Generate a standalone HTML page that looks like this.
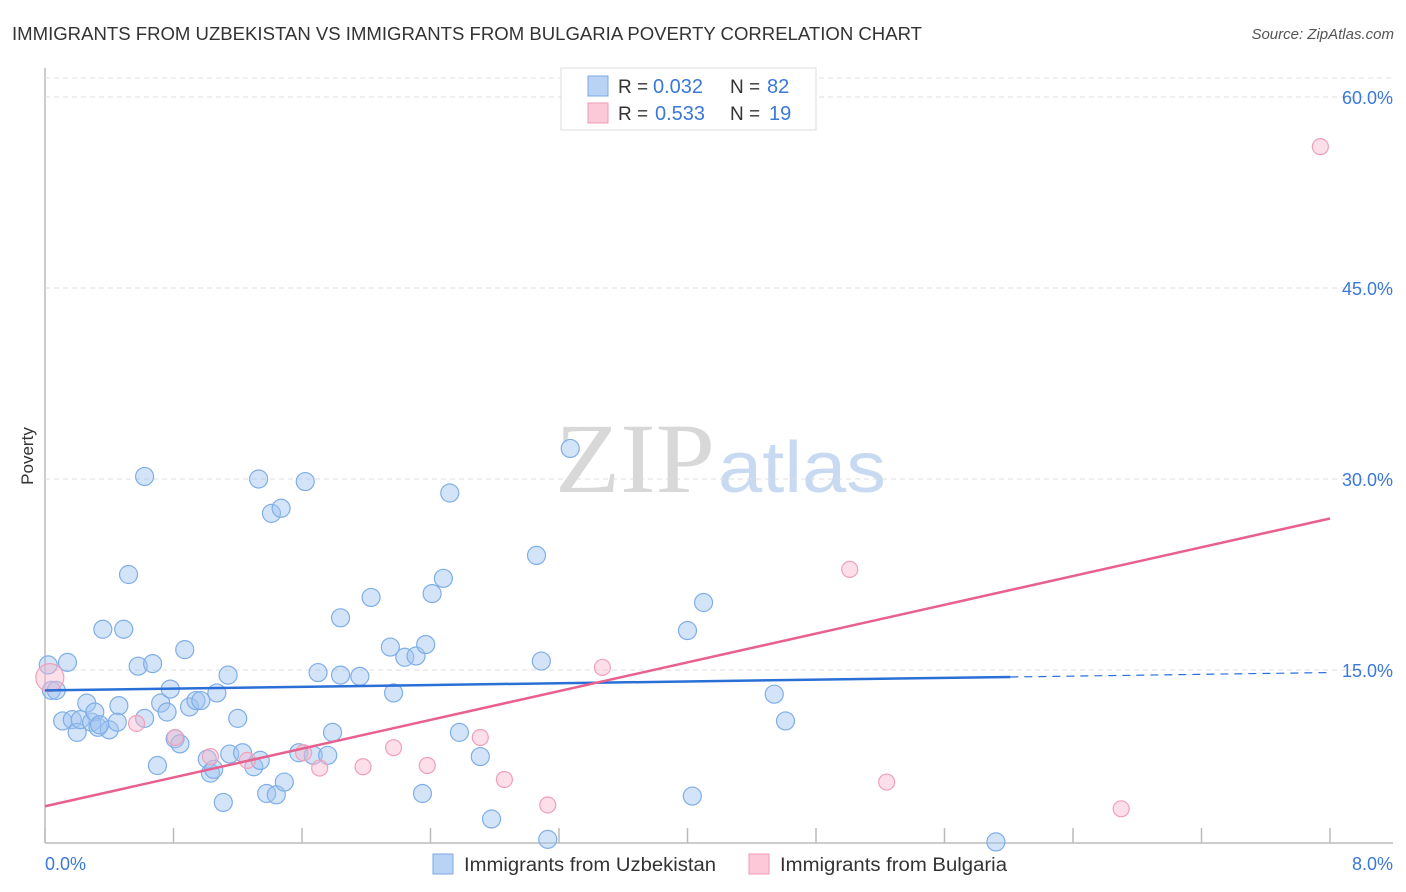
<!DOCTYPE html>
<html><head><meta charset="utf-8"><style>
body{margin:0;background:#fff;font-family:"Liberation Sans",sans-serif;}
#wrap{position:relative;width:1406px;height:892px;overflow:hidden;}
</style></head><body>
<div id="wrap">
<svg id="chart" width="1406" height="892" xmlns="http://www.w3.org/2000/svg">
<text x="12" y="40" font-size="18" fill="#333" textLength="910" lengthAdjust="spacingAndGlyphs">IMMIGRANTS FROM UZBEKISTAN VS IMMIGRANTS FROM BULGARIA POVERTY CORRELATION CHART</text>
<text x="1394" y="39" font-size="15" fill="#555" font-style="italic" text-anchor="end">Source: ZipAtlas.com</text>
<text x="555" y="492" font-size="100" fill="#d8d8d8" textLength="160" lengthAdjust="spacingAndGlyphs" font-family="Liberation Serif,serif">ZIP</text>
<text x="718" y="492" font-size="72" fill="#c8daf2" textLength="168" lengthAdjust="spacingAndGlyphs">atlas</text>
<text transform="translate(33,456) rotate(-90)" font-size="17" fill="#333" text-anchor="middle">Poverty</text>
<g id="grid"></g><g id="marks"></g>
<g>
<rect x="561" y="68" width="255" height="62" fill="#fff" stroke="#ddd"/>
<rect x="588" y="76" width="20" height="20" fill="#b9d3f5" stroke="#7aa8e6"/>
<rect x="588" y="103" width="20" height="20" fill="#fbc9d7" stroke="#f09ab4"/>
<text x="618" y="93" font-size="19" fill="#333">R =</text><text x="653" y="93" font-size="20" fill="#3b78d8">0.032</text>
<text x="730" y="93" font-size="19" fill="#333">N =</text><text x="767" y="93" font-size="20" fill="#3b78d8">82</text>
<text x="618" y="120" font-size="19" fill="#333">R =</text><text x="655" y="120" font-size="20" fill="#3b78d8">0.533</text>
<text x="730" y="120" font-size="19" fill="#333">N =</text><text x="769" y="120" font-size="20" fill="#3b78d8">19</text>
</g>
<g>
<rect x="433" y="854" width="20" height="20" fill="#b9d3f5" stroke="#7aa8e6"/>
<text x="464" y="871" font-size="19" fill="#333" textLength="252" lengthAdjust="spacingAndGlyphs">Immigrants from Uzbekistan</text>
<rect x="749" y="854" width="20" height="20" fill="#fbc9d7" stroke="#f09ab4"/>
<text x="780" y="871" font-size="19" fill="#333" textLength="227" lengthAdjust="spacingAndGlyphs">Immigrants from Bulgaria</text>
</g>
</svg></div>
<script>
const yTicks=[15,30,45,60];
const xTickCount=[0,0.8,1.6,2.4,3.2,4.0,4.8,5.6,6.4,7.2,8.0];
const blueX=[0.02,0.04,0.07,0.14,0.11,0.17,0.20,0.22,0.26,0.29,0.31,0.33,0.36,0.40,0.46,0.45,0.49,0.52,0.58,0.62,0.62,0.67,0.70,0.72,0.76,0.78,0.81,0.84,0.87,0.90,0.94,0.97,1.01,1.03,1.05,1.07,1.11,1.14,1.15,1.20,1.23,1.30,1.33,1.34,1.38,1.41,1.44,1.47,1.49,1.58,1.62,1.67,1.70,1.76,1.79,1.84,1.84,1.96,2.03,2.15,2.17,2.24,2.31,2.35,2.37,2.41,2.48,2.52,2.58,2.71,2.78,3.06,3.09,3.13,3.27,4.00,4.03,4.10,4.54,4.61,5.92,0.34];
const blueY=[15.4,13.4,13.4,15.6,11.0,11.1,10.1,11.1,12.4,10.9,11.7,10.5,18.2,10.3,12.2,10.9,18.2,22.5,15.3,30.2,11.2,15.5,7.5,12.4,11.7,13.5,9.6,9.2,16.6,12.1,12.6,12.6,8.0,6.9,7.2,13.2,4.6,14.6,8.4,11.2,8.5,7.4,30.0,7.9,5.3,27.3,5.2,27.7,6.2,8.5,29.8,8.3,14.8,8.3,10.1,14.6,19.1,14.5,20.7,16.8,13.2,16.0,16.1,5.3,17.0,21.0,22.2,28.9,10.1,8.2,3.3,24.0,15.7,1.7,32.4,18.1,5.1,20.3,13.1,11.0,1.5,10.7];
const pinkX=[0.03,0.57,0.81,1.03,1.26,1.61,1.71,1.98,2.17,2.38,2.71,2.86,3.13,3.47,5.01,5.24,6.70,7.94];
const pinkY=[14.4,10.8,9.7,8.2,7.9,8.5,7.3,7.4,8.9,7.5,9.7,6.4,4.4,15.2,22.9,6.2,4.1,56.1];
const blueTrend=[13.4,14.8];
const pinkTrend=[4.3,26.9];
const NS='http://www.w3.org/2000/svg';
const X=v=>45+v/8*1285, Y=v=>861-v/15*191;
function mk(t,a,p){const e=document.createElementNS(NS,t);for(const k in a)e.setAttribute(k,a[k]);p.appendChild(e);return e;}
const grid=document.getElementById('grid'),marks=document.getElementById('marks');
let ax=mk('line',{x1:45,y1:68,x2:45,y2:843,stroke:'#bbb','stroke-width':1.5},grid);


let bx=mk('line',{x1:45,y1:843,x2:1393,y2:843,stroke:'#bbb','stroke-width':1.5},grid);


mk('line',{x1:45,y1:78,x2:1393,y2:78,stroke:'#e2e2e2','stroke-dasharray':'5,4'},grid);
yTicks.forEach(t=>{
 const g=mk('line',{x1:45,y1:Y(t),x2:1393,y2:Y(t),stroke:'#dcdcdc','stroke-dasharray':'5,4'},grid);
 
 
 const l=mk('text',{x:1393,y:Y(t)+7,'font-size':18,fill:'#3b78d8','text-anchor':'end'},grid);
 l.textContent=t.toFixed(1)+'%';
 
 
});
xTickCount.forEach(t=>{
 const g=mk('line',{x1:X(t),y1:828,x2:X(t),y2:843,stroke:'#bbb','stroke-width':1.5},grid);
 
 
});
[[0,'start',45],[8,'end',1393]].forEach(([v,a,x])=>{
 const l=mk('text',{x:x,y:870,'font-size':18,fill:'#3b78d8','text-anchor':a},grid);
 l.textContent=v.toFixed(1)+'%';
 
 
});
blueX.forEach((v,i)=>{
 const c=mk('circle',{cx:X(v),cy:Y(blueY[i]),r:9,fill:'rgba(160,195,240,0.45)',stroke:'#7eaee8','stroke-width':1.2},marks);
 
 
});
pinkX.forEach((v,i)=>{
 const c=mk('circle',{cx:X(v),cy:Y(pinkY[i]),r:i===0?14:8,fill:'rgba(248,185,205,0.45)',stroke:'#f0a0b8','stroke-width':1.2},marks);
 
 
});
const bAt=x=>blueTrend[0]+(blueTrend[1]-blueTrend[0])*x/8;
let t1=mk('line',{x1:X(0),y1:Y(bAt(0)),x2:X(6.01),y2:Y(bAt(6.01)),stroke:'#2a6fd6','stroke-width':2.5},marks);


let t2=mk('line',{x1:X(6.01),y1:Y(bAt(6.01)),x2:X(8),y2:Y(bAt(8)),stroke:'#2a6fd6','stroke-width':1.2,'stroke-dasharray':'8,6'},marks);


let t3=mk('line',{x1:X(0),y1:Y(pinkTrend[0]),x2:X(8),y2:Y(pinkTrend[1]),stroke:'#e8608e','stroke-width':2.5},marks);


</script>
</body></html>
